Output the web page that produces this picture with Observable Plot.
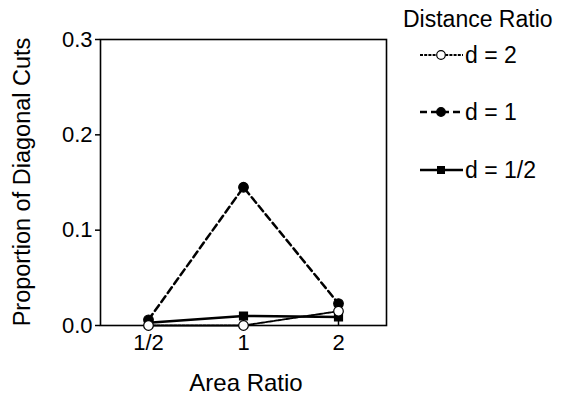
<!DOCTYPE html>
<html><head><meta charset="utf-8">
<script src="https://cdn.jsdelivr.net/npm/d3@7"></script>
<script src="https://cdn.jsdelivr.net/npm/@observablehq/plot@0.6"></script>
<style>body{margin:0;background:#fff;}</style>
</head><body><div id="chart"></div>
<script>
const categories = ["1/2", "1", "2"];
const seriesNames = ["d = 2", "d = 1", "d = 1/2"];
const d2 = [0.0, 0.0, 0.015];
const d1 = [0.006, 0.145, 0.023];
const dHalf = [0.003, 0.010, 0.009];
const yTicks = [0, 0.1, 0.2, 0.3];
const xTitle = "Area Ratio";
const yTitle = "Proportion of Diagonal Cuts";
const legendTitle = "Distance Ratio";

const styles = {
  "d = 2": {dash: "3,1.2", width: 1.8, symbol: "circle", fill: "white", r: 4.8},
  "d = 1": {dash: "7,4", width: 2.5, symbol: "circle", fill: "black", r: 4.8},
  "d = 1/2": {dash: null, width: 2.5, symbol: "square", fill: "black", r: 4.5}
};
const values = {"d = 2": d2, "d = 1": d1, "d = 1/2": dHalf};
const rows = seriesNames.flatMap(s => categories.map((c, i) => ({series: s, x: c, y: values[s][i]})));

const marks = [];
for (const s of ["d = 1/2", "d = 1", "d = 2"]) {
  const st = styles[s];
  const data = rows.filter(r => r.series === s);
  marks.push(Plot.line(data, {x: "x", y: "y", stroke: "black", strokeWidth: st.width, strokeDasharray: st.dash}));
}
for (const s of ["d = 1/2", "d = 1", "d = 2"]) {
  const st = styles[s];
  const data = rows.filter(r => r.series === s);
  marks.push(Plot.dot(data, {x: "x", y: "y", symbol: st.symbol, r: st.r, fill: st.fill, stroke: "black", strokeWidth: 1.2}));
}

const plot = Plot.plot({
  width: 566, height: 397,
  marginLeft: 100, marginRight: 180, marginTop: 39, marginBottom: 72,
  style: {fontFamily: "'Liberation Sans', Arial, sans-serif", color: "black", background: "white"},
  x: {type: "point", domain: categories, padding: 0.5},
  y: {domain: [0, 0.3]},
  marks: [
    Plot.frame({stroke: "black", strokeWidth: 1.6}),
    Plot.axisY({ticks: yTicks, tickFormat: d3.format(".1f"), tickSize: 5, tickPadding: 3, fontSize: 22, label: null, strokeWidth: 1.5}),
    Plot.axisX({tickSize: -6, tickPadding: 15, fontSize: 22, label: null, strokeWidth: 1.5}),
    ...marks
  ]
});
document.getElementById("chart").appendChild(plot);

const svg = d3.select(plot);
svg.selectAll('g[aria-label$="tick label"] text').style("font-size", "22px");
svg.append("text").attr("x", 246).attr("y", 391).attr("text-anchor", "middle")
  .style("font-size", "24px").attr("fill", "black").text(xTitle);
svg.append("text").attr("transform", "translate(30,182) rotate(-90)").attr("text-anchor", "middle")
  .style("font-size", "23.5px").attr("fill", "black").text(yTitle);

// legend
const lg = svg.append("g").attr("text-anchor", "start");
lg.append("text").attr("x", 403).attr("y", 27).style("font-size", "23px").attr("fill", "black").text(legendTitle);
const legendY = [55, 112, 170];
seriesNames.forEach((s, i) => {
  const st = styles[s];
  const y = legendY[i];
  lg.append("line").attr("x1", 420).attr("x2", 463).attr("y1", y).attr("y2", y)
    .attr("stroke", "black").attr("stroke-width", st.width).attr("stroke-dasharray", st.dash);
  if (st.symbol === "circle") {
    lg.append("circle").attr("cx", 441).attr("cy", y).attr("r", 4.3).attr("fill", st.fill).attr("stroke", "black").attr("stroke-width", 1.2);
  } else {
    lg.append("rect").attr("x", 437).attr("y", y - 4).attr("width", 8).attr("height", 8).attr("fill", "black");
  }
  lg.append("text").attr("x", 465).attr("y", y).attr("dy", "0.35em").style("font-size", "23px").attr("fill", "black").text(s);
});
</script></body></html>
